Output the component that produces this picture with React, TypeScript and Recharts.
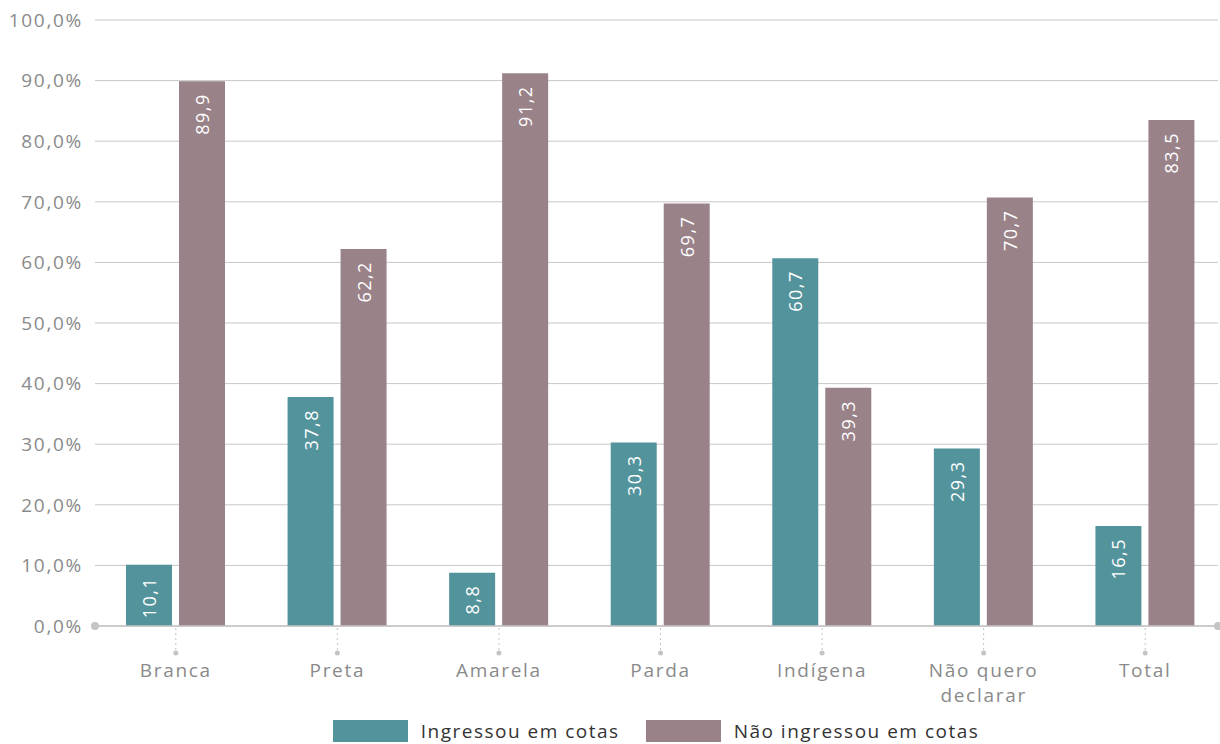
import React from "react";
import {
  Bar,
  BarChart,
  CartesianGrid,
  LabelList,
  Legend,
  ReferenceLine,
  XAxis,
  YAxis,
} from "recharts";

const categories = ["Branca", "Preta", "Amarela", "Parda", "Indígena", "Não quero declarar", "Total"];
const ingressou = [10.1, 37.8, 8.8, 30.3, 60.7, 29.3, 16.5];
const naoIngressou = [89.9, 62.2, 91.2, 69.7, 39.3, 70.7, 83.5];
const yTicks = [0, 10, 20, 30, 40, 50, 60, 70, 80, 90, 100];
const seriesNames = ["Ingressou em cotas", "Não ingressou em cotas"];

const TEAL = "#53939c";
const MAUVE = "#9a8289";
const AXIS_GREY = "#c4c4c4";
const TEXT_GREY = "#8a8a8a";
const FONT = "'Open Sans', 'Noto Sans', sans-serif";

const data = categories.map((name, i) => ({
  name,
  ingressou: ingressou[i],
  naoIngressou: naoIngressou[i],
}));

const fmt = (v: number) => v.toFixed(1).replace(".", ",");

const BarValue = (props: any) => {
  const { x, y, width, value } = props;
  const cx = x + width / 2;
  const ty = y + 12;
  return (
    <text
      x={cx}
      y={ty}
      transform={`rotate(-90, ${cx}, ${ty})`}
      textAnchor="end"
      dominantBaseline="central"
      fill="#ffffff"
      fontSize={18}
      letterSpacing={1.5}
      fontFamily={FONT}
    >
      {fmt(value)}
    </text>
  );
};

const CategoryTick = (props: any) => {
  const { x, y, payload } = props;
  const words = String(payload.value).split(" ");
  const lines = words.length > 2 ? [words.slice(0, 2).join(" "), words.slice(2).join(" ")] : [payload.value];
  return (
    <g>
      <line x1={x} y1={y + 2} x2={x} y2={y + 25} stroke={AXIS_GREY} strokeDasharray="2 3" />
      <circle cx={x} cy={y + 27} r={2.5} fill={AXIS_GREY} />
      {lines.map((l: string, i: number) => (
        <text
          key={i}
          x={x}
          y={y + 51 + i * 25}
          textAnchor="middle"
          fill={TEXT_GREY}
          fontSize={19}
          letterSpacing={1.7}
          fontFamily={FONT}
        >
          {l}
        </text>
      ))}
    </g>
  );
};

const AxisBase = (props: any) => {
  const { x1, y1, x2, y2 } = props;
  return (
    <g>
      <line x1={x1} y1={y1} x2={x2} y2={y2} stroke={AXIS_GREY} strokeWidth={1.5} />
      <circle cx={x1} cy={y1} r={4} fill={AXIS_GREY} />
      <circle cx={x2} cy={y2} r={4} fill={AXIS_GREY} />
    </g>
  );
};

const LegendBox = () => (
  <div
    style={{
      display: "flex",
      justifyContent: "center",
      alignItems: "flex-end",
      gap: 26,
      fontFamily: FONT,
      fontSize: 19,
      letterSpacing: 1.5,
      color: "#333333",
      height: 30,
    }}
  >
    {seriesNames.map((n, i) => (
      <div key={n} style={{ display: "flex", alignItems: "center" }}>
        <div style={{ width: 75, height: 22, background: i === 0 ? TEAL : MAUVE, marginRight: 13 }} />
        <span>{n}</span>
      </div>
    ))}
  </div>
);

export default function App() {
  return (
    <div style={{ position: "fixed", left: 0, top: 0, width: 1220, height: 744, background: "#fff" }}>
      <BarChart
        width={1220}
        height={744}
        data={data}
        margin={{ top: 20, right: 2, left: 0, bottom: 0 }}
        barSize={46}
        barGap={7}
      >
        <CartesianGrid vertical={false} stroke="#c8c8c8" />
        <XAxis
          dataKey="name"
          axisLine={false}
          tickLine={false}
          tickSize={0}
          tickMargin={0}
          height={88}
          interval={0}
          padding={{ left: 0, right: -8 }}
          tick={<CategoryTick />}
        />
        <YAxis
          width={95}
          domain={[0, 100]}
          ticks={yTicks}
          axisLine={false}
          tickLine={false}
          tickMargin={6}
          tickFormatter={(v: number) => `${fmt(v)}%`}
          tick={{ fill: TEXT_GREY, fontSize: 19, fontFamily: FONT, letterSpacing: 1.7 }}
        />
        <Legend
          verticalAlign="bottom"
          height={30}
          wrapperStyle={{ left: 95, width: 1122 }}
          content={<LegendBox />}
        />
        <Bar dataKey="ingressou" name={seriesNames[0]} fill={TEAL} isAnimationActive={false}>
          <LabelList dataKey="ingressou" content={<BarValue />} />
        </Bar>
        <Bar dataKey="naoIngressou" name={seriesNames[1]} fill={MAUVE} isAnimationActive={false}>
          <LabelList dataKey="naoIngressou" content={<BarValue />} />
        </Bar>
        <ReferenceLine y={0} shape={<AxisBase />} />
      </BarChart>
    </div>
  );
}
